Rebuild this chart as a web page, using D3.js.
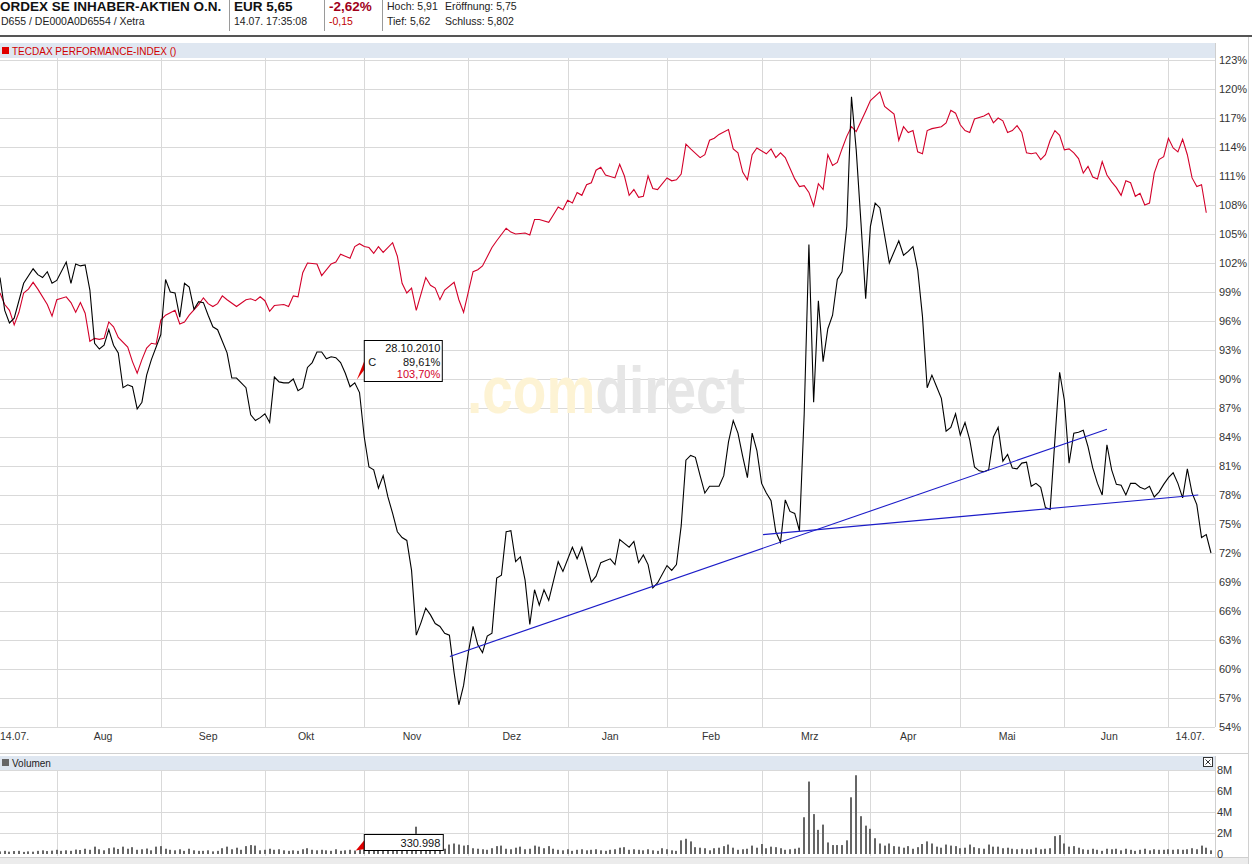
<!DOCTYPE html>
<html><head><meta charset="utf-8">
<script src="https://cdn.jsdelivr.net/npm/d3@7"></script>
<style>
body{margin:0;background:#fff;}
svg text{font-family:"Liberation Sans",Arial,sans-serif;}
</style></head>
<body><svg id="c" width="1252" height="864"></svg>
<script>
// ---------- DATA ----------
// trading-day index (0 = 14.07.2010, 256 = 14.07.2011) and performance in %
const stockDay = [0,1,2,3,5,7,8,9,10,11,12,14,15,16,17,18,19,20,21,22,23,24,25,26,27,28,29,30,31,32,34,35,36,37,38,39,40,41,42,43,44,45,46,48,49,50,52,53,54,55,56,57,58,59,60,61,62,63,64,65,66,67,68,69,70,71,72,73,74,75,76,77,78,79,80,81,82,83,84,85,86,87,88,89,90,91,92,93,94,95,96,97,98,99,100,101,102,103,104,105,106,107,108,109,110,111,112,113,114,115,116,118,119,121,122,123,125,126,127,129,130,131,132,133,134,135,136,137,138,139,141,142,143,144,145,146,147,148,149,150,152,153,154,155,156,157,158,159,160,161,162,163,164,165,166,167,168,169,170,171,172,173,174,175,176,177,178,179,180,181,182,183,184,185,186,188,190,191,192,193,194,195,196,197,198,199,200,201,202,203,204,205,206,207,208,209,210,211,212,213,214,215,216,217,218,219,220,221,222,223,224,225,226,227,228,229,230,231,232,233,234,235,236,237,238,239,240,241,242,243,244,245,246,247,248,249,250,251,252,253,254,255,256];
const stockPct = [100.5,97.1,95.8,96.3,99.9,101.4,100.8,100.5,101.1,99.9,100.2,102.1,99.9,101.9,101.7,101.8,99.2,93.7,93.1,93.5,95.1,93.5,92.7,89.1,89.4,89.2,86.9,87.6,90.4,92.0,94.6,100.3,99.0,98.9,96.4,99.9,99.5,97.2,98.0,97.9,96.6,95.4,95.1,92.7,90.1,90.1,89.1,86.3,85.7,86.0,86.4,85.5,90.2,89.7,89.6,89.6,90.0,88.8,89.1,91.2,91.7,92.8,92.8,92.1,92.3,92.2,91.7,90.6,89.2,89.61,88.6,84.0,80.9,80.6,78.7,80.0,77.8,76.1,74.2,73.6,73.3,70.2,63.5,64.8,66.3,65.6,64.7,64.4,63.7,63.5,59.6,56.3,58.3,61.7,64.4,62.5,61.7,63.4,63.7,69.4,69.7,74.2,74.3,71.1,71.6,69.2,64.6,68.2,66.6,68.2,67.1,71.1,70.1,72.6,71.4,72.6,69.0,69.6,71.0,71.4,70.8,73.4,73.0,72.6,73.2,71.0,71.8,70.8,68.4,68.9,70.7,70.2,70.8,74.8,81.6,82.1,81.9,80.0,78.2,78.9,78.9,80.0,83.5,85.7,84.4,82.0,79.8,84.4,82.6,79.2,78.2,77.4,74.2,73.1,77.5,76.3,76.1,74.3,86.3,103.9,87.6,98.1,91.8,95.2,96.6,100.3,101.1,105.8,119.2,113.7,106.2,98.3,105.8,108.2,107.7,102.0,104.3,102.8,103.2,103.7,101.3,96.5,89.1,90.4,89.2,88.0,84.6,85.0,86.4,84.2,85.5,83.7,80.9,80.5,80.4,80.6,84.0,85.0,81.5,82.2,80.8,80.7,81.3,81.4,78.9,79.2,78.8,76.7,76.5,83.7,90.7,87.8,81.3,84.4,84.5,84.7,83.0,80.8,79.2,78.0,83.2,80.6,79.1,79.0,78.0,79.2,79.2,78.8,78.6,78.9,77.8,78.3,79.1,79.8,80.3,79.2,77.7,80.7,78.2,77.0,73.6,73.9,72.0];

const tecdaxDay = [0,1,2,3,4,5,6,7,8,10,11,12,14,15,16,17,18,19,20,21,22,23,24,25,27,28,29,30,31,32,33,34,35,37,38,39,40,42,43,44,45,46,47,48,50,52,53,54,55,56,57,58,60,61,62,63,64,65,67,68,70,71,72,74,75,76,77,78,79,80,81,83,84,85,86,87,88,90,91,92,93,94,96,97,98,100,101,102,104,105,107,108,109,111,112,113,114,116,117,118,119,120,121,122,123,124,125,126,127,128,130,131,132,133,134,135,136,137,138,139,141,142,143,144,145,146,148,149,150,151,152,154,155,156,157,158,159,160,162,163,164,165,166,168,169,170,171,172,173,174,175,176,177,178,179,180,181,183,184,186,187,189,190,191,192,193,194,195,196,197,199,200,201,202,203,204,205,206,208,209,210,211,212,213,214,215,216,217,218,219,220,221,222,223,224,225,226,227,228,229,230,231,232,233,234,235,236,237,238,239,240,241,242,243,244,245,246,247,248,249,250,251,252,253,254,255];
const tecdaxPct = [98.9,97.7,97.1,95.6,96.9,98.9,99.3,100.0,99.3,97.7,96.5,98.2,98.5,97.9,96.9,97.9,96.8,93.9,94.2,94.1,94.2,95.9,95.4,94.3,93.3,91.8,90.6,92.0,93.2,93.7,93.6,96.1,96.6,97.1,95.7,95.9,96.6,97.7,98.4,97.8,97.5,97.8,98.6,98.2,97.5,98.2,98.3,98.1,98.5,98.1,97.0,97.6,97.7,97.5,98.6,98.5,101.0,102.0,101.9,100.7,101.9,102.1,102.9,102.5,103.7,104.0,103.7,103.6,103.0,103.7,103.1,104.1,102.7,99.9,98.9,99.4,97.1,100.5,99.7,99.4,98.2,99.2,100.0,98.2,96.9,101.1,101.3,101.7,103.6,104.3,105.6,105.2,105.0,105.1,104.9,106.5,106.5,106.2,107.0,107.8,107.5,108.5,108.2,109.3,109.0,110.1,110.3,111.6,111.9,111.1,110.8,112.2,111.0,109.0,109.6,108.8,108.9,111.0,109.7,109.6,110.8,110.5,110.6,111.2,114.3,113.8,112.9,113.2,114.7,114.9,115.3,115.8,113.8,113.4,111.4,110.6,113.2,113.9,113.3,113.8,112.9,113.4,112.9,110.7,109.9,110.0,109.3,107.9,110.2,109.6,113.2,112.1,112.4,113.8,115.1,116.1,115.6,117.7,118.8,119.7,118.2,117.4,114.7,116.1,115.5,115.7,113.5,113.3,115.7,115.9,116.1,116.5,117.8,117.5,116.3,115.7,115.5,116.9,117.2,117.5,116.5,117.0,116.7,115.5,115.7,116.2,115.5,113.4,113.3,113.4,112.7,113.2,114.7,115.7,115.2,113.7,113.8,113.4,112.8,111.3,112.0,110.9,110.7,112.5,111.1,110.4,109.8,109.0,110.5,110.3,108.9,109.2,108.0,108.2,111.3,112.7,113.0,114.9,113.9,113.5,114.8,113.2,110.8,109.9,110.1,107.2];

// daily volume in millions, one value per trading day (index 0..256)
const volumeM = [0.25,0.30,0.22,0.28,0.30,0.20,0.25,0.22,0.30,0.35,0.28,0.32,0.40,
0.30,0.35,0.30,0.42,0.38,0.50,0.40,0.70,0.45,0.35,0.55,0.62,0.48,
0.70,0.50,0.65,0.40,0.45,0.52,0.35,0.70,0.75,0.50,0.40,0.35,0.45,0.30,0.50,
0.35,0.30,0.30,0.35,0.25,0.30,0.55,0.70,0.45,0.60,0.40,0.75,0.85,0.80,0.35,0.40,
0.50,0.40,0.45,0.35,0.30,0.35,0.30,0.45,0.55,0.40,0.35,0.40,0.35,0.30,0.45,0.30,0.35,0.40,0.33,
0.40,0.45,0.40,0.50,0.40,0.45,0.40,0.50,0.45,0.40,0.45,0.50,
2.60,
0.50,0.45,0.50,0.45,0.40,0.50,
0.90,1.00,0.90,0.80,0.85,0.55,
0.50,0.45,0.40,0.55,0.75,0.80,0.50,0.45,0.60,0.70,0.45,0.50,0.80,
0.70,0.55,0.75,0.50,0.40,0.35,0.45,0.30,0.40,0.45,0.35,0.40,0.45,0.35,0.30,0.40,0.45,0.60,
0.65,0.40,0.45,0.40,0.35,0.45,0.35,0.30,0.55,0.45,0.35,0.30,
1.30,1.45,1.20,
0.65,0.60,0.55,0.35,0.55,0.60,0.75,0.90,0.60,0.40,0.45,0.50,0.80,0.60,
0.95,0.55,0.70,0.65,0.55,0.40,0.45,0.50,0.60,
3.50,6.90,3.80,2.30,2.80,1.10,0.85,0.85,0.85,1.30,5.40,7.50,3.60,2.70,2.40,1.50,
1.00,0.80,1.00,0.75,0.70,0.60,0.75,0.50,0.65,0.95,1.20,1.00,0.70,0.60,0.90,
0.80,0.75,0.55,0.60,0.90,0.65,0.55,0.50,0.90,0.70,0.70,0.55,0.60,0.50,0.45,0.50,0.45,0.45,0.60,0.45,0.50,0.55,
1.70,1.80,1.00,
0.70,0.75,0.60,0.45,0.40,0.50,0.40,0.30,0.50,0.45,0.50,0.35,0.50,0.40,0.30,0.40,0.50,0.35,0.45,0.40,0.40,0.45,0.40,0.45,0.40,0.45,0.55,0.45,0.80,0.60,0.35];

// trend lines drawn by the user (start/end day, start/end %)
const trendStartDay = [95.1, 161.3];
const trendEndDay   = [234.0, 253.3];
const trendStartPct = [61.3, 73.9];
const trendEndPct   = [84.8, 78.0];

// axes
const monthGridDay = [12,34,56,77,99,120,141,161,184,203,225,247];
const xLabels   = ["14.07.","Aug","Sep","Okt","Nov","Dez","Jan","Feb","Mrz","Apr","Mai","Jun","14.07."];
const xLabelDay = [0,21.8,44.0,64.7,87.1,108.2,129.0,150.3,171.2,192.0,212.9,234.5,251.6];
const yTicks = [54,57,60,63,66,69,72,75,78,81,84,87,90,93,96,99,102,105,108,111,114,117,120,123];
const volTicks = [0,2,4,6,8];
const volTickLabels = ["0","2M","4M","6M","8M"];

// tooltip (crosshair value box)
const tipDay = 75, tipDate = "28.10.2010", tipStock = "89,61%", tipIndex = "103,70%", tipVolume = "330.998";

// header texts (as visible in the cropped header)
const title = "ORDEX SE INHABER-AKTIEN O.N.";
const subTitle = "D655 / DE000A0D6554 / Xetra";
const price = "EUR 5,65", timeStamp = "14.07. 17:35:08";
const changePct = "-2,62%", changeAbs = "-0,15";
const hoch = "Hoch: 5,91", tief = "Tief: 5,62", eroeff = "Eröffnung: 5,75", schluss = "Schluss: 5,802";
const legendText = "TECDAX PERFORMANCE-INDEX ()";

// ---------- DRAW ----------
const svg = d3.select("#c");
const x = d3.scaleLinear().domain([0,256]).range([0,1211]);
const y = d3.scaleLinear().domain([54,123]).range([727,60]);
const yv = d3.scaleLinear().domain([0,8]).range([854,770]);
const plotRight = 1215;
const grid = "#d9d9d9";

// header
svg.append("text").attr("x",0).attr("y",11).attr("font-size",13.5).attr("font-weight","bold").attr("fill","#111").text(title);
svg.append("text").attr("x",1).attr("y",24.5).attr("font-size",10.5).attr("fill","#222").text(subTitle);
[229,324,382].forEach(v=>svg.append("line").attr("x1",v+0.5).attr("x2",v+0.5).attr("y1",0).attr("y2",31).attr("stroke","#9a9a9a"));
svg.append("text").attr("x",234).attr("y",11).attr("font-size",13.5).attr("font-weight","bold").attr("fill","#111").text(price);
svg.append("text").attr("x",234).attr("y",24.5).attr("font-size",10.5).attr("fill","#222").text(timeStamp);
svg.append("text").attr("x",329).attr("y",11).attr("font-size",13.5).attr("font-weight","bold").attr("fill","#a0001a").text(changePct);
svg.append("text").attr("x",329).attr("y",24.5).attr("font-size",10.5).attr("fill","#c00000").text(changeAbs);
svg.append("text").attr("x",387).attr("y",10).attr("font-size",10.5).attr("fill","#222").text(hoch);
svg.append("text").attr("x",445).attr("y",10).attr("font-size",10.5).attr("fill","#222").text(eroeff);
svg.append("text").attr("x",387).attr("y",24.5).attr("font-size",10.5).attr("fill","#222").text(tief);
svg.append("text").attr("x",445).attr("y",24.5).attr("font-size",10.5).attr("fill","#222").text(schluss);
svg.append("rect").attr("x",0).attr("y",35).attr("width",1252).attr("height",2).attr("fill","#555");
svg.append("line").attr("x1",1248.5).attr("x2",1248.5).attr("y1",37).attr("y2",864).attr("stroke","#d0d0d0");

// legend band
svg.append("rect").attr("x",0).attr("y",43).attr("width",plotRight+1).attr("height",15).attr("fill","#dfe7f1");
svg.append("rect").attr("x",2).attr("y",47).attr("width",7).attr("height",7).attr("fill","#e00000");
svg.append("text").attr("x",12).attr("y",54.5).attr("font-size",10).attr("fill","#d00000").text(legendText);

// main grid
const g = svg.append("g");
g.selectAll(".hg").data(yTicks).join("line")
  .attr("x1",0).attr("x2",plotRight).attr("y1",d=>Math.round(y(d))+0.5).attr("y2",d=>Math.round(y(d))+0.5)
  .attr("stroke",grid);
g.selectAll(".vg").data(monthGridDay).join("line")
  .attr("x1",d=>Math.round(x(d))+0.5).attr("x2",d=>Math.round(x(d))+0.5).attr("y1",58).attr("y2",727)
  .attr("stroke",grid);
g.append("line").attr("x1",plotRight+0.5).attr("x2",plotRight+0.5).attr("y1",43).attr("y2",727).attr("stroke","#cfcfcf");

// watermark: one text, two-colour fill via hard-stop gradient
const defs = svg.append("defs");
const lg = defs.append("linearGradient").attr("id","wmfill").attr("gradientUnits","userSpaceOnUse")
  .attr("x1",467).attr("x2",745).attr("y1",0).attr("y2",0);
lg.append("stop").attr("offset",0.47).attr("stop-color","#fdf3d4");
lg.append("stop").attr("offset",0.47).attr("stop-color","#e6e6e6");
svg.append("text").attr("x",467).attr("y",413).attr("font-size",66).attr("font-weight","bold")
  .attr("textLength",278).attr("lengthAdjust","spacingAndGlyphs").attr("fill","url(#wmfill)").text(".comdirect");

// right y axis
const yAxis = d3.axisRight(y).tickValues(yTicks).tickSize(0).tickPadding(0).tickFormat(d=>d+"%");
const ya = svg.append("g").attr("transform","translate(1219,0)").call(yAxis);
ya.select(".domain").remove();
ya.selectAll("text").attr("font-size",11).attr("fill","#333").attr("font-family","Liberation Sans, Arial, sans-serif");

// x labels
svg.selectAll(".xl").data(xLabels).join("text")
  .attr("x",(d,i)=>x(xLabelDay[i])).attr("y",740)
  .attr("text-anchor",(d,i)=>i===0?"start":"middle")
  .attr("font-size",10.5).attr("fill","#333").text(d=>d);

// lines
const lineGen = (days)=>d3.line().x((d,i)=>x(days[i])).y(d=>y(d));
svg.append("path").datum(tecdaxPct).attr("d",lineGen(tecdaxDay)).attr("fill","none").attr("stroke","#d3002a").attr("stroke-width",1.1);
svg.append("path").datum(stockPct).attr("d",lineGen(stockDay)).attr("fill","none").attr("stroke","#000").attr("stroke-width",1.1);

// trend lines
svg.selectAll(".tr").data(trendStartDay).join("line")
  .attr("x1",(d,i)=>x(trendStartDay[i])).attr("y1",(d,i)=>y(trendStartPct[i]))
  .attr("x2",(d,i)=>x(trendEndDay[i])).attr("y2",(d,i)=>y(trendEndPct[i]))
  .attr("stroke","#1c1cc8").attr("stroke-width",1.1);

// tooltip on main chart
const tx = x(tipDay), ty = y(tipStock.replace(",",".").replace("%","")*1);
const bx = tx+9.5, by = 340.5;
svg.append("path").attr("d",`M${tx+2},${ty-3}L${bx+1},${by+18}L${bx+1},${by+28}Z`).attr("fill","#e00000");
svg.append("rect").attr("x",bx).attr("y",by).attr("width",78).attr("height",41).attr("fill","#fff").attr("stroke","#000");
svg.append("text").attr("x",bx+76).attr("y",by+11.5).attr("text-anchor","end").attr("font-size",11).attr("fill","#111").text(tipDate);
svg.append("text").attr("x",bx+4).attr("y",by+25).attr("font-size",11).attr("fill","#111").text("C");
svg.append("text").attr("x",bx+76).attr("y",by+25).attr("text-anchor","end").attr("font-size",11).attr("fill","#111").text(tipStock);
svg.append("text").attr("x",bx+76).attr("y",by+37.5).attr("text-anchor","end").attr("font-size",11).attr("fill","#d3002a").text(tipIndex);

// volume panel
svg.append("line").attr("x1",0).attr("x2",1248).attr("y1",753.5).attr("y2",753.5).attr("stroke","#d0d0d0");
svg.append("rect").attr("x",0).attr("y",756).attr("width",plotRight+1).attr("height",14).attr("fill","#dfe7f1");
svg.append("rect").attr("x",2).attr("y",759).attr("width",7).attr("height",7).attr("fill","#666");
svg.append("text").attr("x",12).attr("y",766.5).attr("font-size",10).attr("fill","#222").text("Volumen");
svg.append("rect").attr("x",1203.5).attr("y",757.5).attr("width",9).attr("height",9).attr("fill","#fff").attr("stroke","#333");
svg.append("path").attr("d","M1205.5,759.5L1210.5,764.5M1210.5,759.5L1205.5,764.5").attr("stroke","#333");

svg.selectAll(".vhg").data(volTicks.filter(d=>d>0)).join("line")
  .attr("x1",0).attr("x2",plotRight).attr("y1",d=>Math.round(yv(d))+0.5).attr("y2",d=>Math.round(yv(d))+0.5).attr("stroke",grid);
svg.selectAll(".vvg").data(monthGridDay).join("line")
  .attr("x1",d=>Math.round(x(d))+0.5).attr("x2",d=>Math.round(x(d))+0.5).attr("y1",770).attr("y2",856).attr("stroke",grid);
svg.append("line").attr("x1",plotRight+0.5).attr("x2",plotRight+0.5).attr("y1",756).attr("y2",857).attr("stroke","#cfcfcf");
svg.append("rect").attr("x",0).attr("y",857).attr("width",1248).attr("height",7).attr("fill","#ececec");
svg.append("line").attr("x1",0).attr("x2",1248).attr("y1",857.5).attr("y2",857.5).attr("stroke","#cfcfcf");

svg.selectAll(".vb").data(volumeM).join("rect")
  .attr("x",(d,i)=>Math.round(x(i))-1).attr("width",2)
  .attr("y",d=>yv(d)).attr("height",d=>yv(0)-yv(d)).attr("fill","#666");

const va = svg.append("g").attr("transform","translate(1217,0)")
  .call(d3.axisRight(yv).tickValues(volTicks).tickSize(0).tickPadding(0).tickFormat((d,i)=>volTickLabels[i]));
va.select(".domain").remove();
va.selectAll("text").attr("font-size",11).attr("fill","#333").attr("font-family","Liberation Sans, Arial, sans-serif");

// volume tooltip
const vty = yv(volumeM[tipDay]);
svg.append("path").attr("d",`M${tx+1},${vty}L${bx+1},${839}L${bx+1},${849}Z`).attr("fill","#e00000");
svg.append("rect").attr("x",bx).attr("y",834.5).attr("width",79).attr("height",16).attr("fill","#fff").attr("stroke","#000");
svg.append("text").attr("x",bx+76).attr("y",846.5).attr("text-anchor","end").attr("font-size",11).attr("fill","#111").text(tipVolume);
</script>
</body></html>
